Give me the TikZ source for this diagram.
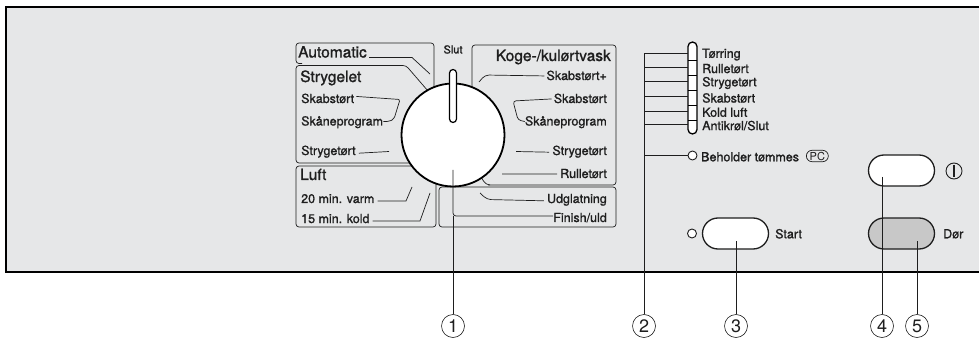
\documentclass[tikz,border=0pt]{standalone}
\usepackage{fontspec}
\setmainfont{TeX Gyre Heros}
\newfontfamily\lblfont[FakeBold=1.2]{TeX Gyre Heros}
\usetikzlibrary{shapes.misc}
\definecolor{panelgray}{RGB}{230,231,232}
\definecolor{doorgray}{RGB}{200,200,200}
\definecolor{ink}{RGB}{30,30,30}
\tikzset{
 bx/.style={draw=ink, line width=0.7pt, rounded corners=3pt},
 ldr/.style={draw=ink, line width=0.7pt},
 sl/.style={font=\lblfont\fontsize{12.5}{12.5}\selectfont, inner sep=0pt, text=ink},
 tl/.style={font=\lblfont\fontsize{15.5}{15.5}\selectfont, inner sep=0pt, text=ink},
 btn/.style={rounded rectangle, draw=ink, line width=1.3pt, minimum width=66pt, minimum height=31pt, fill=white, inner sep=0pt},
 numc/.style={circle, draw=ink, line width=0.6pt, minimum size=23pt, inner sep=0pt, font=\fontsize{18}{18}\selectfont, text=ink},
 led/.style={circle, draw=ink, line width=0.9pt, minimum size=9pt, inner sep=0pt, fill=white},
}
\begin{document}
\begin{tikzpicture}[x=1pt,y=-1pt]
\useasboundingbox (0,0) rectangle (979,339);
% panel
\fill[panelgray] (6,7) rectangle (979,272);
\draw[black, line width=1.3pt] (979,7) -- (6,7) -- (6,272) -- (979,272);

% ---------- left program boxes
\draw[bx] (434,88) |- (296,43) |- (302,63.5);
\draw[bx] (428,91) -- (406,65.5) -- (296,65.5) -- (296,163) -- (415,163);
\draw[bx] (414,166) -- (296,166) -- (296,227) -- (436,227) -- (436,180);
% ---------- right program boxes
\draw[bx] (472,90) |- (616,45) |- (488,185);
\draw[ldr, rounded corners=4pt] (490,185) -- (486,185) -- (481,177);
\draw[bx] (439,187) rectangle (616,227);

% ---------- texts left
\node[tl, anchor=base west] (automatic) at (298,57.5) {Automatic};
\node[tl, anchor=base west] (strygelet) at (300,82) {Strygelet};
\node[sl, anchor=base west] (lskab) at (301,103) {Skabstørt};
\node[sl, anchor=base west] (lskaane) at (301,125.5) {Skåneprogram};
\node[sl, anchor=base west] (lstryg) at (301,155) {Strygetørt};
\node[tl, anchor=base west] (luft) at (300,180) {Luft};
\node[sl, anchor=base west] (varm) at (301,203) {20 min. varm};
\node[sl, anchor=base west] (kold) at (301,223) {15 min. kold};

% ---------- texts right
\node[font=\lblfont\fontsize{11}{11}\selectfont, inner sep=0pt, anchor=base, text=ink] (slut) at (453,53.5) {Slut};
\node[tl, anchor=base east] (koge) at (611,61) {Koge-/kulørtvask};
\node[sl, anchor=base east] (rskabp) at (607,80) {Skabstørt+};
\node[sl, anchor=base east] (rskab) at (607,103) {Skabstørt};
\node[sl, anchor=base east] (rskaane) at (607,125.5) {Skåneprogram};
\node[sl, anchor=base east] (rstryg) at (607,155) {Strygetørt};
\node[sl, anchor=base east] (rrulle) at (607,178) {Rulletørt};
\node[sl, anchor=base east] (udgl) at (607,203) {Udglatning};
\node[sl, anchor=base east] (finish) at (607,222) {Finish/uld};

% ---------- leaders left
\draw[ldr] (automatic.base east) ++(2,0) -- (412,57.5) -- (430,74);
\draw[ldr, rounded corners=2pt] (lskab.east) ++(2,-2) coordinate (a1) -- (400,99.5) -- (394,119) -- (389,121.5) -- (lskaane.base east |- 0,121.5);
\draw[ldr] (lstryg.east) ++(3,1.5) -- (389,151.5);
\draw[ldr] (varm.base east) ++(3,-2) -- (406,201) -- (412,187);
\draw[ldr] (kold.base east) ++(3,-2) -- (420,221) -- (430,193);

% ---------- leaders right
\draw[ldr, rounded corners=4pt] (rskabp.west) ++(-2,0.5) -- (485,75) -- (479,82);
\draw[ldr, rounded corners=3pt] (rskab.west) ++(-2,0.5) -- (513,101) -- (518,120) -- (rskaane.west |- 0,121.5);
\draw[ldr] (rstryg.west) ++(-3,0.5) -- (516,151.5);
\draw[ldr] (rrulle.west) ++(-3,0.5) -- (502,174);
\draw[ldr, rounded corners=4pt] (udgl.west) ++(-3,1) -- (487,199.5) -- (480,193);

% ---------- dial
\node[circle, draw=black, line width=1.8pt, fill=white, minimum size=103pt, inner sep=0pt] (dial) at (453,135) {};
\draw[black, line width=1.2pt, fill=white, rounded corners=3.5pt] (449.5,69.5) rectangle (456.5,122.5);
\coordinate (dtail) at (453,170);
\draw[ldr, rounded corners=3pt] (dtail) -- (453,216) -- (finish.west |- 0,216);

% ---------- indicator strip
\draw[black, line width=1.3pt, fill=white, rounded corners=4.5pt] (688,42) rectangle (697,134);
\foreach \yy in {60,75,90,105,120} \draw[black, line width=0.8pt] (688,\yy) -- (697,\yy);
\coordinate (brtop) at (644,53.3);
\foreach \yy/\lab/\nm in {53.3/Tørring/i1, 67.3/Rulletørt/i2, 81.7/Strygetørt/i3, 96.7/Skabstørt/i4, 111/Kold luft/i5, 124.3/Antikrøl\slash Slut/i6}{
  \node[sl, anchor=west] (\nm) at (702,\yy+1.3) {\lab};
  \draw[ldr] (644,\yy) -- (688,\yy);
}
\node[led] (ledbeh) at (692.5,155.5) {};
\node[sl, anchor=west] (beh) at (701,156.8) {Beholder tømmes};
\node[rounded rectangle, draw=ink, line width=0.7pt, inner xsep=1.5pt, inner ysep=1.5pt, font=\fontsize{11}{11}\selectfont, text=ink, anchor=west] (pc) at (806,156) {PC};
\draw[ldr] (ledbeh.west) -- (644,155.5);

% ---------- buttons
\node[btn] (start) at (735.5,233.5) {};
\node[led] (ledstart) at (692,233.5) {};
\node[sl, anchor=west] (starttxt) at (775,233.8) {Start};
\node[btn] (power) at (901.5,170.5) {};
\node[circle, draw=ink, line width=0.9pt, minimum size=16pt, inner sep=0pt] (pwrsym) at (954,171) {};
\draw[ink, line width=1.3pt] (954,165) -- (954,177);
\node[btn, fill=doorgray] (door) at (901.5,233.5) {};
\node[sl, anchor=west] (dortxt) at (943,233.8) {Dør};

% ---------- numbered callouts
\node[numc] (n1) at (453,326) {1};
\node[numc] (n2) at (644,326) {2};
\node[numc] (n3) at (736,326) {3};
\node[numc] (n4) at (882,326) {4};
\node[numc] (n5) at (917,326) {5};
\draw[ldr] (453,216) -- (n1.north);
\draw[ldr] (brtop) -- (n2.north);
\coordinate (s3) at (736,241);
\coordinate (s4) at (882,177);
\coordinate (s5) at (917,241);
\draw[ldr] (s3) -- (n3.north);
\draw[ldr] (s4) -- (n4.north);
\draw[ldr] (s5) -- (n5.north);
\end{tikzpicture}
\end{document}
